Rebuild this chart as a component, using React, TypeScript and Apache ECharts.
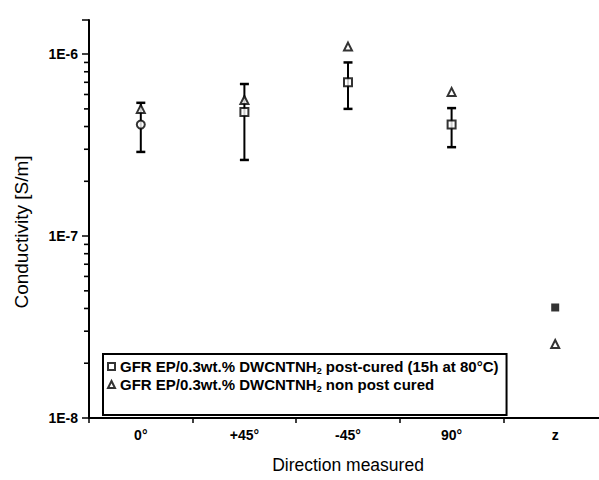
import React, { useEffect, useRef } from "react";
import * as echarts from "echarts";

const categories = ["0°", "+45°", "-45°", "90°", "z"];
const postCuredName = "GFR EP/0.3wt.% DWCNTNH{sub|2} post-cured (15h at 80°C)";
const nonPostName = "GFR EP/0.3wt.% DWCNTNH{sub|2} non post cured";
const postCured = [4.1e-7, 4.8e-7, 7.0e-7, 4.1e-7, 4.05e-8];
const postCuredLow = [2.9e-7, 2.62e-7, 5.0e-7, 3.08e-7];
const postCuredHigh = [5.4e-7, 6.85e-7, 9.0e-7, 5.05e-7];
const nonPostCured = [5.0e-7, 5.6e-7, 1.1e-6, 6.2e-7, 2.55e-8];
const yMin = 1e-8;
const yMax = 1.54e-6;
const minorMantissas = [2, 3, 4, 5, 6, 7, 8, 9];
const decades = [-8, -7, -6];

const FONT = "'Liberation Sans', Arial, sans-serif";
const GRID_LEFT = 89;

export default function App() {
  const ref = useRef<HTMLDivElement>(null);
  useEffect(() => {
    if (!ref.current) return;
    const chart = echarts.init(ref.current, undefined, { renderer: "svg" });

    const minorTickValues: number[] = [];
    decades.forEach((d) =>
      minorMantissas.forEach((m) => {
        const v = m * Math.pow(10, d);
        if (v < yMax) minorTickValues.push(v);
      })
    );

    const errData = postCuredLow.map((lo, i) => [i, lo, postCuredHigh[i]]);

    const postData = postCured.map((v, i) => {
      if (i === 0) return { value: [i, v], symbol: "emptyCircle" };
      if (i === 4) return { value: [i, v], symbol: "rect" };
      return { value: [i, v] };
    });

    chart.setOption({
      animation: false,
      backgroundColor: "#fff",
      grid: { left: GRID_LEFT, top: 20, right: 0, bottom: 62 },
      legend: {
        orient: "vertical",
        left: 103,
        top: 354,
        padding: [5, 8, 22, 4],
        borderColor: "#000",
        borderWidth: 2,
        itemGap: 2,
        itemWidth: 7,
        itemHeight: 7,
        selectedMode: false,
        textStyle: {
          fontFamily: FONT,
          fontSize: 15,
          fontWeight: "bold",
          color: "#000",
          rich: {
            sub: { fontSize: 9, fontWeight: "bold", verticalAlign: "bottom", padding: [8, 0, 0, 0], fontFamily: FONT, color: "#000" },
          },
        },
        data: [
          { name: postCuredName, icon: "emptyRect", itemStyle: { color: "#000", borderColor: "#000", borderWidth: 1 } },
          { name: nonPostName, icon: "emptyTriangle", itemStyle: { color: "#000", borderColor: "#000", borderWidth: 1 } },
        ],
      },
      xAxis: [
        {
          type: "category",
          data: categories,
          boundaryGap: true,
          name: "Direction measured",
          nameLocation: "middle",
          nameGap: 38,
          nameTextStyle: { fontFamily: FONT, fontSize: 17.5, color: "#000" },
          axisLine: { lineStyle: { color: "#000", width: 2 } },
          axisTick: { alignWithLabel: true, length: 8, lineStyle: { color: "#000", width: 2 } },
          axisLabel: { fontFamily: FONT, fontSize: 14, fontWeight: "bold", color: "#000", margin: 10 },
          splitLine: { show: false },
        },
        {
          type: "category",
          data: categories,
          position: "bottom",
          boundaryGap: true,
          axisLine: { show: false },
          axisTick: { show: true, alignWithLabel: false, length: 5, lineStyle: { color: "#000", width: 1.5 } },
          axisLabel: { show: false },
          splitLine: { show: false },
        },
      ],
      yAxis: {
        type: "log",
        logBase: 10,
        min: yMin,
        max: yMax,
        name: "Conductivity [S/m]",
        nameLocation: "middle",
        nameGap: 58,
        nameTextStyle: { fontFamily: FONT, fontSize: 19, color: "#000", padding: [0, 26, 0, 0] },
        axisLine: { show: true, lineStyle: { color: "#000", width: 2 } },
        axisTick: { show: true, length: 7, lineStyle: { color: "#000", width: 1.5 } },
        axisLabel: {
          fontFamily: FONT,
          fontSize: 14,
          fontWeight: "bold",
          color: "#000",
          margin: 11,
          formatter: (v: number) => {
            const e = Math.round(Math.log10(v));
            if (Math.abs(Math.log10(v) - e) > 1e-6) return "";
            return "1E" + e;
          },
        },
        splitLine: { show: false },
        minorTick: { show: false },
      },
      series: [
        {
          type: "custom",
          name: "minorTicks",
          silent: true,
          clip: false,
          z: 10,
          data: minorTickValues.map((v) => [0, v]),
          encode: { x: 0, y: 1 },
          renderItem: (params: any, api: any) => {
            const p = api.coord([api.value(0), api.value(1)]);
            const band = api.size([1, 0])[0];
            const x0 = p[0] - band / 2;
            return {
              type: "rect",
              shape: { x: x0 - 5, y: p[1] - 0.8, width: 5, height: 1.6 },
              style: { fill: "#000" },
            };
          },
        },
        {
          type: "custom",
          name: "errorbars",
          silent: true,
          data: errData,
          encode: { x: 0, y: [1, 2] },
          z: 2,
          renderItem: (params: any, api: any) => {
            const i = api.value(0);
            const lo = api.coord([i, api.value(1)]);
            const hi = api.coord([i, api.value(2)]);
            const hw = 4.5;
            return {
              type: "group",
              children: [
                { type: "line", shape: { x1: lo[0], y1: lo[1], x2: hi[0], y2: hi[1] }, style: { stroke: "#000", lineWidth: 2 } },
                { type: "line", shape: { x1: lo[0] - hw, y1: lo[1], x2: lo[0] + hw, y2: lo[1] }, style: { stroke: "#000", lineWidth: 2.5 } },
                { type: "line", shape: { x1: hi[0] - hw, y1: hi[1], x2: hi[0] + hw, y2: hi[1] }, style: { stroke: "#000", lineWidth: 2.5 } },
              ],
            };
          },
        },
        {
          type: "scatter",
          name: nonPostName,
          symbol: "emptyTriangle",
          symbolSize: 8,
          z: 3,
          itemStyle: { color: "#000", borderWidth: 1.2 },
          data: nonPostCured.map((v, i) => [i, v]),
        },
        {
          type: "scatter",
          name: postCuredName,
          symbol: "emptyRect",
          symbolSize: 8,
          z: 4,
          itemStyle: { color: "#000", borderWidth: 1.2 },
          data: postData,
        },
      ],
    });

    return () => chart.dispose();
  }, []);
  return (
    <div style={{ position: "fixed", left: 0, top: 0, width: 599, height: 480, overflow: "hidden" }}>
      <div ref={ref} style={{ width: 607, height: 480 }} />
    </div>
  );
}
